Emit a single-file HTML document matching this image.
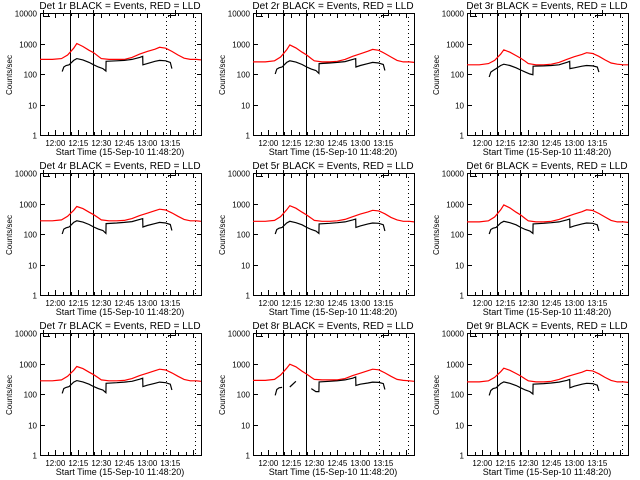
<!DOCTYPE html>
<html><head><meta charset="utf-8"><style>
html,body{margin:0;padding:0;background:#fff;}
svg{display:block;}
text{font-family:"Liberation Sans",sans-serif;fill:#000;}
</style></head><body>
<svg id="c" width="640" height="480" viewBox="0 0 640 480"></svg>
<script>
const detectors = ["1r","2r","3r","4r","5r","6r","7r","8r","9r"];
const redTimes = [-10,-2,4,8,12,14,18,22,25,28,30,35,40,45,50,55,60,65,68,72,76,80,84,88,92,95];
const blackTimes = [4.5,5.5,7,9,12,14,18,22,25,28,31,33,33.1,40,45,50,55,57,57.1,60,65,68,72,75,76];
const red1 = [300,300,320,420,700,1000,800,600,500,380,320,300,300,300,350,450,550,650,750,700,550,420,330,300,300,290];
const red2 = [250,250,270,360,620,900,720,520,420,320,270,250,250,260,300,380,460,560,640,600,470,360,280,250,250,240];
const red3 = [200,200,220,280,450,620,520,400,330,260,220,200,200,210,240,300,370,440,500,470,380,290,230,210,200,200];
const red4 = [270,270,290,380,600,800,680,520,430,340,290,270,270,280,320,400,480,580,650,610,490,380,300,270,270,260];
const red5 = [260,260,280,370,620,850,700,520,420,330,280,260,260,270,300,370,450,530,600,570,460,350,290,260,260,250];
const red6 = [250,250,270,360,620,900,720,520,420,320,270,250,250,260,300,370,450,540,620,590,470,360,280,250,250,240];
const red7 = [270,270,290,380,600,800,680,520,430,340,290,270,270,280,320,400,480,580,650,610,490,380,300,270,270,260];
const red8 = [280,280,300,420,700,950,780,560,450,350,300,290,290,290,320,400,480,580,650,620,490,380,300,280,270,260];
const red9 = [250,250,270,350,540,700,600,470,390,310,270,250,250,260,300,370,440,520,600,570,460,350,280,250,250,240];
const black1 = [120,170,190,200,280,320,290,240,200,170,150,125,260,270,280,300,350,380,200,220,260,280,270,240,150];
const black2 = [100,145,160,170,240,270,245,205,170,145,130,105,220,230,240,255,300,320,170,190,220,240,230,205,130];
const black3 = [80,115,130,150,190,210,190,160,135,115,100,95,180,185,190,200,240,260,150,160,180,190,185,170,115];
const black4 = [100,145,160,170,240,270,245,205,170,145,130,105,220,230,240,255,300,320,170,190,220,240,230,205,130];
const black5 = [100,140,155,165,230,260,235,200,165,140,125,105,215,225,235,250,290,310,165,185,215,230,225,200,125];
const black6 = [100,140,155,165,230,260,235,200,165,140,125,105,215,225,235,250,290,310,165,185,215,230,225,200,125];
const black7 = [105,150,165,175,245,275,250,210,175,150,135,110,225,235,245,260,305,330,175,195,225,245,235,210,135];
const black8 = [90,140,160,165,null,170,260,null,null,150,120,120,250,260,270,290,330,360,190,210,230,245,240,220,140];
const black9 = [90,130,150,160,220,250,225,190,160,135,120,100,210,220,230,245,280,300,160,180,210,225,220,195,125];
const reds = [red1,red2,red3,red4,red5,red6,red7,red8,red9];
const blacks = [black1,black2,black3,black4,black5,black6,black7,black8,black9];
const yTicks = [1,10,100,1000,10000];
const yTickLabels = ["1","10","100","1000","10000"];
const xTicks = [0,15,30,45,60,75];
const xTickLabels = ["12:00","12:15","12:30","12:45","13:00","13:15"];
const solidLines = [9.6,24.6];
const dottedLines = [72.3,91];

const NS="http://www.w3.org/2000/svg";
const svg=document.getElementById('c');
function mk(tag,attrs,parent){const e=document.createElementNS(NS,tag);for(const k in attrs)e.setAttribute(k,attrs[k]);parent.appendChild(e);return e;}
const L=40,R=201,T=13,B=135,TMIN=-10,TMAX=95;
function xs(t){return L+(t-TMIN)*(R-L)/(TMAX-TMIN);}
function ys(v){return B-(Math.log10(v))*(B-T)/4;}

for(let i=0;i<9;i++){
  const ox=Math.round((i%3)*213.33), oy=Math.floor(i/3)*160;
  const g=mk('g',{transform:`translate(${ox},${oy})`},svg);
  
  
  const st={stroke:'#000','stroke-width':1,fill:'none','shape-rendering':'crispEdges'};
  const ttl=mk('text',{x:120,y:9,'font-size':10,'text-anchor':'middle'},g);
  ttl.textContent='Det '+detectors[i]+' BLACK = Events, RED = LLD';
  
  
  const frame=mk('rect',Object.assign({x:L+0.5,y:T+0.5,width:R-L,height:B-T},st),g);
  
  
  yTicks.forEach((v,k)=>{
    const y=Math.round(ys(v))+0.5;
    mk('line',Object.assign({x1:L,x2:L+5,y1:y,y2:y},st),g);
    mk('line',Object.assign({x1:R-4,x2:R+1,y1:y,y2:y},st),g);
    const tl=mk('text',{x:37,y:y+3,'font-size':8,'text-anchor':'end'},g);
    tl.textContent=yTickLabels[k];
    
    
  });
  for(let t=-5;t<=TMAX;t+=5){
    const x=Math.round(xs(t))+0.5;
    const len=(t%15===0)?5:3;
    mk('line',Object.assign({x1:x,x2:x,y1:B,y2:B-len},st),g);
    mk('line',Object.assign({x1:x,x2:x,y1:T,y2:T+len},st),g);
  }
  xTicks.forEach((t,k)=>{
    const tl=mk('text',{x:xs(t),y:146,'font-size':8,'text-anchor':'middle'},g);
    tl.textContent=xTickLabels[k];
    
    
  });
  const xt=mk('text',{x:120,y:155,'font-size':9,'text-anchor':'middle'},g);
  xt.textContent='Start Time (15-Sep-10 11:48:20)';
  
  
  const yt=mk('text',{x:0,y:0,'font-size':8,'text-anchor':'middle',transform:'translate(12,75) rotate(-90)'},g);
  yt.textContent='Counts/sec';
  
  
  solidLines.forEach(t=>{const x=Math.round(xs(t))+0.5;
    const l=mk('line',Object.assign({x1:x,x2:x,y1:10,y2:B},st),g);
    
    });
  dottedLines.forEach(t=>{const x=Math.round(xs(t))+0.5;
    const l=mk('line',Object.assign({x1:x,x2:x,y1:T,y2:B,'stroke-dasharray':'1,3'},st),g);
    
    });
  mk('polyline',Object.assign({points:'43.5,10 43.5,16.5 50,16.5'},st),g);
  mk('polyline',Object.assign({points:'168.5,17 168.5,15.5 175.5,15.5 175.5,10'},st),g);
  const rp=reds[i].map((v,k)=>xs(redTimes[k]).toFixed(1)+','+ys(v).toFixed(1)).join(' ');
  const rl=mk('polyline',{points:rp,stroke:'#f00','stroke-width':1.2,fill:'none'},g);
  
  
  let seg=[];const segs=[];
  blacks[i].forEach((v,k)=>{if(v===null){if(seg.length)segs.push(seg);seg=[];}else seg.push(xs(blackTimes[k]).toFixed(1)+','+ys(v).toFixed(1));});
  if(seg.length)segs.push(seg);
  segs.forEach(s=>{const bl=mk('polyline',{points:s.join(' '),stroke:'#000','stroke-width':1.2,fill:'none'},g);
    
    });
}
</script>
</body></html>
